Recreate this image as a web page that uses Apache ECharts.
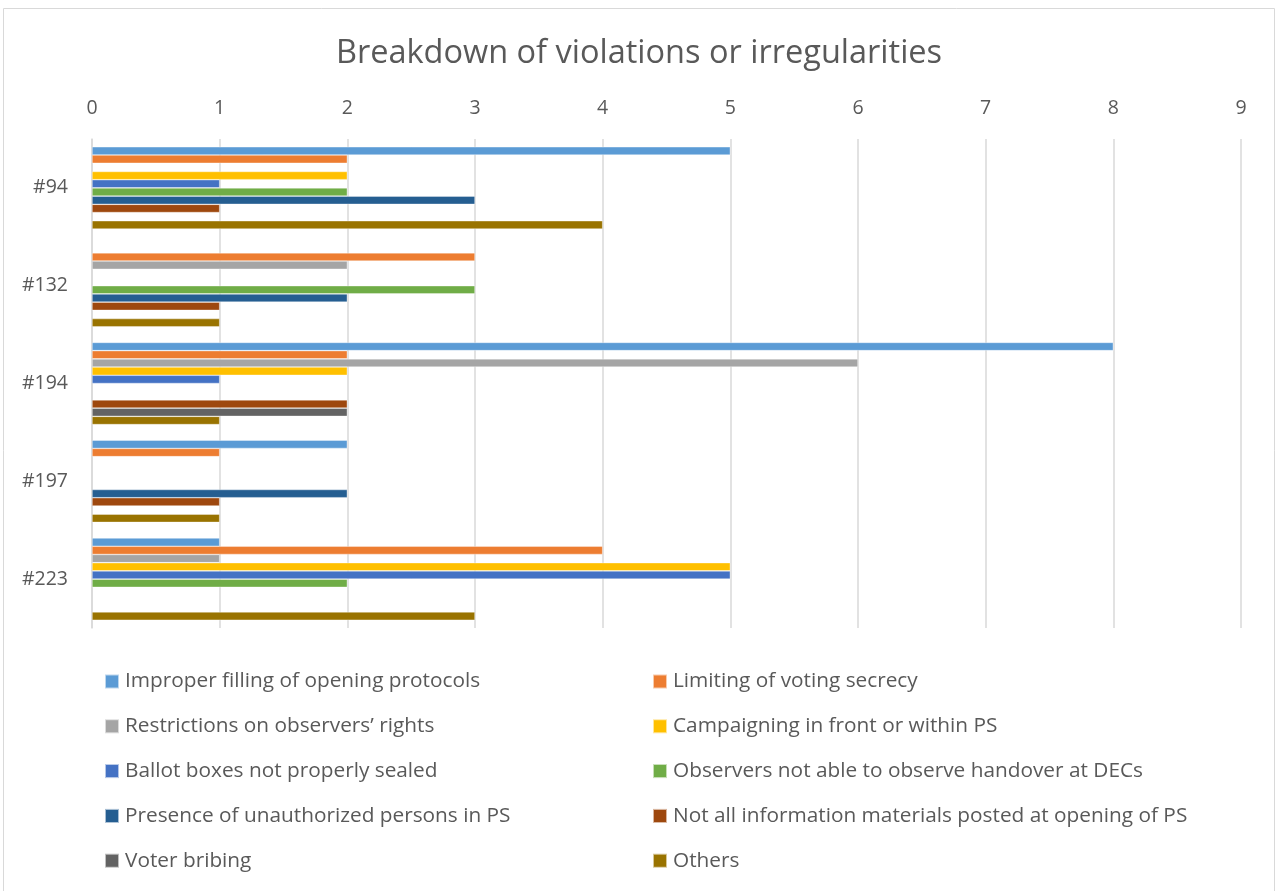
<!DOCTYPE html>
<html>
<head>
<meta charset="utf-8">
<script src="https://cdn.jsdelivr.net/npm/echarts@6/dist/echarts.min.js"></script>
<style>
html,body{margin:0;padding:0;background:#fff;}
#chart{width:1278px;height:891px;}
</style>
</head>
<body>
<div id="chart"></div>
<script>
var categories = ['#94', '#132', '#194', '#197', '#223'];
var seriesNames = [
  'Improper filling of opening protocols',
  'Limiting of voting secrecy',
  'Restrictions on observers\u2019 rights',
  'Campaigning in front or within PS',
  'Ballot boxes not properly sealed',
  'Observers not able to observe handover at DECs',
  'Presence of unauthorized persons in PS',
  'Not all information materials posted at opening of PS',
  'Voter bribing',
  'Others'
];
var improperFilling   = [5, null, 8, 2, 1];
var limitingSecrecy   = [2, 3, 2, 1, 4];
var restrictionsObs   = [null, 2, 6, null, 1];
var campaigning       = [2, null, 2, null, 5];
var ballotBoxes       = [1, null, 1, null, 5];
var observersHandover = [2, 3, null, null, 2];
var unauthorized      = [3, 2, null, 2, null];
var infoMaterials     = [1, 1, 2, 1, null];
var voterBribing      = [null, null, 2, null, null];
var others            = [4, 1, 1, 1, 3];
var xTicks = [0, 1, 2, 3, 4, 5, 6, 7, 8, 9];

var seriesValues = [improperFilling, limitingSecrecy, restrictionsObs, campaigning, ballotBoxes,
  observersHandover, unauthorized, infoMaterials, voterBribing, others];
var colors = ['#5B9BD5', '#ED7D31', '#A5A5A5', '#FFC000', '#4472C4', '#70AD47', '#255E91', '#9E480E', '#636363', '#997300'];

var FONT = '"Open Sans", "Liberation Sans", sans-serif';
var TXT = '#595959';

var chart = echarts.init(document.getElementById('chart'), null, {renderer: 'canvas'});
var series = seriesNames.map(function (n, i) {
  return {
    name: n,
    type: 'bar',
    data: seriesValues[i],
    barGap: '0%',
    barCategoryGap: '16%',
    itemStyle: {color: colors[i], borderColor: 'rgba(255,255,255,0.6)', borderWidth: 0.6},
    emphasis: {disabled: true}
  };
});

function legendFor(names, left) {
  return {
    orient: 'vertical',
    left: left,
    top: 671,
    padding: 0,
    itemWidth: 14,
    itemHeight: 14,
    itemGap: 23.8,
    icon: 'rect',
    textStyle: {fontFamily: FONT, fontSize: 20.8, lineHeight: 20, color: TXT, padding: [0, 0, 0, 1]},
    data: names
  };
}

chart.setOption({
  animation: false,
  color: colors,
  graphic: [{
    type: 'rect',
    shape: {x: 3.5, y: 8.5, width: 1271, height: 900},
    style: {fill: 'none', stroke: '#D9D9D9', lineWidth: 1},
    silent: true
  }],
  title: {
    text: 'Breakdown of violations or irregularities',
    left: 'center',
    top: 32,
    textStyle: {fontFamily: FONT, fontSize: 32.5, fontWeight: 'normal', color: TXT}
  },
  legend: [
    legendFor([seriesNames[0], seriesNames[2], seriesNames[4], seriesNames[6], seriesNames[8]], 104),
    legendFor([seriesNames[1], seriesNames[3], seriesNames[5], seriesNames[7], seriesNames[9]], 652)
  ],
  grid: {left: 92, right: 37, top: 139, bottom: 263, containLabel: false},
  xAxis: {
    type: 'value',
    position: 'top',
    min: xTicks[0],
    max: xTicks[xTicks.length - 1],
    interval: 1,
    axisLine: {show: false},
    axisTick: {show: false},
    axisLabel: {fontFamily: FONT, fontSize: 19.5, color: TXT, margin: 21},
    splitLine: {show: true, lineStyle: {color: '#D9D9D9', width: 1.5}}
  },
  yAxis: {
    type: 'category',
    inverse: true,
    data: categories,
    axisLine: {show: true, lineStyle: {color: '#D9D9D9', width: 1.5}},
    axisTick: {show: false},
    axisLabel: {fontFamily: FONT, fontSize: 19.5, color: TXT, margin: 24}
  },
  series: series
});
</script>
</body>
</html>
